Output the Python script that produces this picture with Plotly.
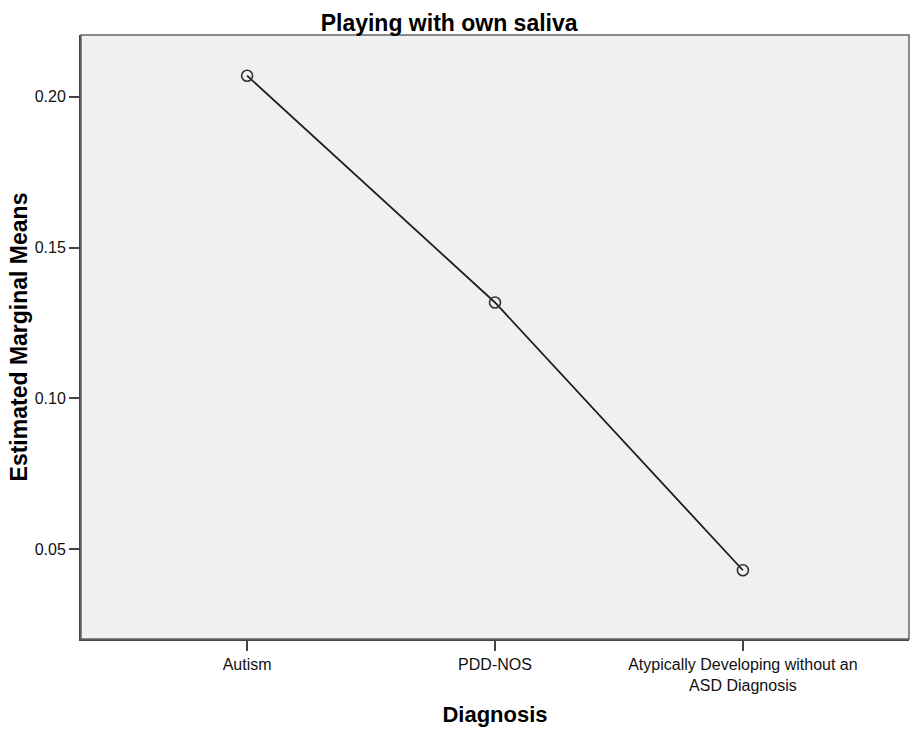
import plotly.graph_objects as go

categories = ["Autism", "PDD-NOS", "Atypically Developing without an<br>ASD Diagnosis"]
means = [0.2070, 0.1318, 0.0430]
y_ticks = [0.05, 0.10, 0.15, 0.20]
y_ticklabels = ["0.05", "0.10", "0.15", "0.20"]

fig = go.Figure()
fig.add_trace(go.Scatter(
    x=categories, y=means, mode="lines+markers",
    line=dict(color="#1e1e1e", width=1.8),
    marker=dict(symbol="circle-open", size=11, color="#333333", line=dict(width=1.6, color="#333333")),
    showlegend=False,
))

fig.update_layout(
    width=911, height=734,
    margin=dict(l=81, r=2, t=35, b=95),
    paper_bgcolor="white", plot_bgcolor="#F0F0F0",
    font=dict(family="Liberation Sans, Arial, sans-serif", color="#111111", size=16),
    title=dict(text="<b>Playing with own saliva</b>", x=0.493, xanchor="center", y=0.969, yanchor="middle",
               font=dict(size=23, color="#000000")),
    xaxis=dict(
        type="category", range=[-0.67, 2.67],
        showline=True, linecolor="#444444", linewidth=2, mirror=False,
        ticks="outside", ticklen=10, tickwidth=1.5, tickcolor="#444444",
        showgrid=False, zeroline=False,
        tickfont=dict(size=16, color="#111111"),
        title=dict(text="<b>Diagnosis</b>", font=dict(size=22, color="#000000"), standoff=14),
    ),
    yaxis=dict(
        range=[0.0202, 0.2205],
        tickvals=y_ticks, ticktext=y_ticklabels,
        showline=True, linecolor="#444444", linewidth=2, mirror=False,
        ticks="outside", ticklen=10, tickwidth=1.5, tickcolor="#444444",
        showgrid=False, zeroline=False,
        tickfont=dict(size=16, color="#111111"),
        title=dict(text="<b>Estimated Marginal Means</b>", font=dict(size=23, color="#000000"), standoff=1),
    ),
    shapes=[dict(type="rect", xref="paper", yref="paper", x0=0, y0=0, x1=1, y1=1,
                 line=dict(color="#666666", width=1.5), fillcolor="rgba(0,0,0,0)", layer="above")],
)

fig.write_html("out.html", config={"displayModeBar": False},
               post_script="document.body.style.margin='0';document.body.style.overflow='hidden';")
